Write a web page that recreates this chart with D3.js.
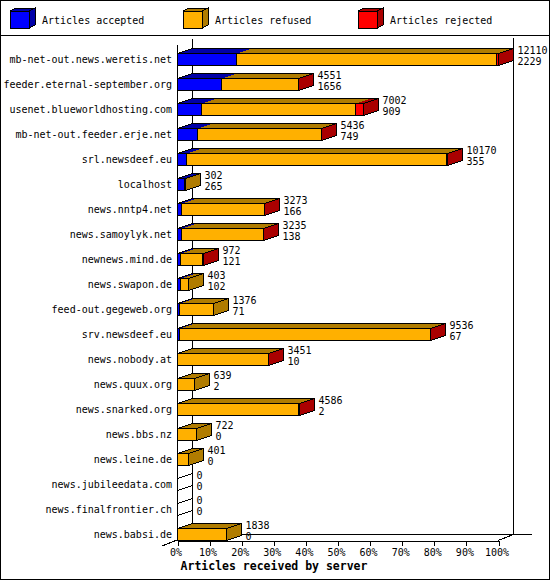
<!DOCTYPE html>
<html>
<head>
<meta charset="utf-8">
<script src="https://cdn.jsdelivr.net/npm/d3@7"></script>
<style>
  body { margin:0; background:#fff; }
  text { font-family:"DejaVu Sans Mono", monospace; font-size:10px; fill:#000; }
  .heading { font-weight:bold; font-size:11.5px; }
</style>
</head>
<body>
<svg width="550" height="580"></svg>
<script>
const servers = ['mb-net-out.news.weretis.net','feeder.eternal-september.org','usenet.blueworldhosting.com',
  'mb-net-out.feeder.erje.net','srl.newsdeef.eu','localhost','news.nntp4.net','news.samoylyk.net',
  'newnews.mind.de','news.swapon.de','feed-out.gegeweb.org','srv.newsdeef.eu','news.nobody.at',
  'news.quux.org','news.snarked.org','news.bbs.nz','news.leine.de','news.jubileedata.com',
  'news.finalfrontier.ch','news.babsi.de'];
const received = [12110,4551,7002,5436,10170,302,3273,3235,972,403,1376,9536,3451,639,4586,722,401,0,0,1838];
const accepted = [2229,1656,909,749,355,265,166,138,121,102,71,67,10,2,2,0,0,0,0,0];
const refused  = [9801,2890,5803,4677,9805,37,3102,3092,821,301,1305,9459,3436,637,4579,722,401,0,0,1838];
const rejected = [80,5,290,10,10,0,5,5,30,0,0,10,5,0,5,0,0,0,0,0];

const seriesNames = ['Articles accepted','Articles refused','Articles rejected'];
const front = ['#0000ff','#ffb000','#ff0000'];
const side  = ['#0000a8','#b07c00','#aa0000'];

const svg = d3.select('svg');
const width = +svg.attr('width');
const height = +svg.attr('height');

// frame + legend separator
svg.append('rect').attr('x',0.5).attr('y',0.5).attr('width',width-1).attr('height',height-1)
  .attr('fill','#fff').attr('stroke','#000');
svg.append('line').attr('x1',0).attr('x2',width).attr('y1',35.5).attr('y2',35.5).attr('stroke','#000');

const legendX = [10,183,358];
seriesNames.forEach((name,i)=>{
  const lx = legendX[i], ly = 11, s = 19, h = 17, dx = 6, dy = 3;
  const lg = svg.append('g').attr('shape-rendering','crispEdges');
  lg.append('polygon').attr('points',`${lx},${ly} ${lx+s},${ly} ${lx+s+dx},${ly-dy} ${lx+dx},${ly-dy}`)
    .attr('fill',side[i]).attr('stroke','#000');
  lg.append('polygon').attr('points',`${lx+s},${ly} ${lx+s+dx},${ly-dy} ${lx+s+dx},${ly+h-dy} ${lx+s},${ly+h}`)
    .attr('fill',side[i]).attr('stroke','#000');
  lg.append('rect').attr('x',lx+0.5).attr('y',ly+0.5).attr('width',s).attr('height',h)
    .attr('fill',front[i]).attr('stroke','#000');
  svg.append('text').attr('x',lx+32).attr('y',24).text(name);
});

const maxTotal = d3.max(received);
const x = d3.scaleLinear().domain([0,100]).range([177,498]);
const y = d3.scaleBand().domain(servers).range([45,545]);
const pct = v => x(v/maxTotal*100);

const DX = 15;    // depth, horizontal
const BDY = 5;    // bar depth, vertical
const barH = 12;

const g = svg.append('g').attr('shape-rendering','crispEdges');

// back walls / floor
g.append('line').attr('x1',192.5).attr('x2',192.5).attr('y1',39).attr('y2',534.5).attr('stroke','#000');
g.append('line').attr('x1',513.5).attr('x2',513.5).attr('y1',38).attr('y2',534.5).attr('stroke','#000');
g.append('line').attr('x1',192).attr('x2',532).attr('y1',534.5).attr('y2',534.5).attr('stroke','#000');
g.append('line').attr('x1',177.5).attr('x2',177.5).attr('y1',45).attr('y2',540.5).attr('stroke','#000');
g.append('line').attr('x1',162).attr('y1',546).attr('x2',192).attr('y2',534).attr('stroke','#000');
g.append('line').attr('x1',498).attr('y1',540.5).attr('x2',513.5).attr('y2',534.5).attr('stroke','#000');

const xAxis = d3.axisBottom(x).tickValues(d3.range(0,101,10))
  .tickFormat(d=>d+'%').tickSize(5).tickSizeOuter(0);
const xAxisG = svg.append('g').attr('transform','translate(0.5,540.5)').call(xAxis);
xAxisG.attr('shape-rendering','crispEdges');
xAxisG.select('.domain').attr('stroke','#000');
xAxisG.selectAll('.tick line').attr('stroke','#000');
xAxisG.selectAll('.tick text').attr('y',8).attr('x',-2).attr('fill','#000')
  .attr('font-family',null).attr('font-size',null);

svg.append('text').attr('class','heading').attr('x',274).attr('y',570).attr('text-anchor','middle')
  .text('Articles received by server');

// bars
servers.forEach((s,i)=>{
  const top = y(s)+8.5, bot = top+barH;
  const segs = [accepted[i],refused[i],rejected[i]];
  let cum = 0;
  const xs = segs.map(v=>{ const a = pct(cum); cum += v; return [a, pct(cum)]; });
  const x0 = Math.round(pct(0))+0.5;
  const xEnd = Math.round(pct(cum))+0.5;
  const rg = g.append('g');

  segs.forEach((v,k)=>{
    if(v<=0) return;
    const a = Math.round(xs[k][0])+0.5, b = Math.round(xs[k][1])+0.5;
    rg.append('polygon').attr('points',`${a},${top} ${b},${top} ${b+DX},${top-BDY} ${a+DX},${top-BDY}`)
      .attr('fill',side[k]);
  });
  rg.append('polygon').attr('points',`${x0},${top} ${xEnd},${top} ${xEnd+DX},${top-BDY} ${x0+DX},${top-BDY}`)
    .attr('fill','none').attr('stroke','#000');

  let last = -1;
  segs.forEach((v,k)=>{ if(v>0) last = k; });
  rg.append('polygon').attr('points',`${xEnd},${top} ${xEnd+DX},${top-BDY} ${xEnd+DX},${bot-BDY} ${xEnd},${bot}`)
    .attr('fill',last<0 ? 'none' : side[last]).attr('stroke','#000');

  segs.forEach((v,k)=>{
    if(v<=0) return;
    const a = Math.round(xs[k][0])+0.5, b = Math.round(xs[k][1])+0.5;
    rg.append('rect').attr('x',a).attr('y',top).attr('width',Math.max(b-a,0)).attr('height',barH)
      .attr('fill',front[k]).attr('stroke','#000');
  });
  if(cum===0){
    rg.append('line').attr('x1',x0).attr('x2',x0).attr('y1',top).attr('y2',bot).attr('stroke','#000');
  }

  svg.append('text').attr('x',172).attr('y',y(s)+18).attr('text-anchor','end').text(s);
  svg.append('text').attr('x',xEnd+DX+4).attr('y',top+0.5).text(received[i]);
  svg.append('text').attr('x',xEnd+DX+4).attr('y',top+11).text(accepted[i]);
});
</script>
</body>
</html>
